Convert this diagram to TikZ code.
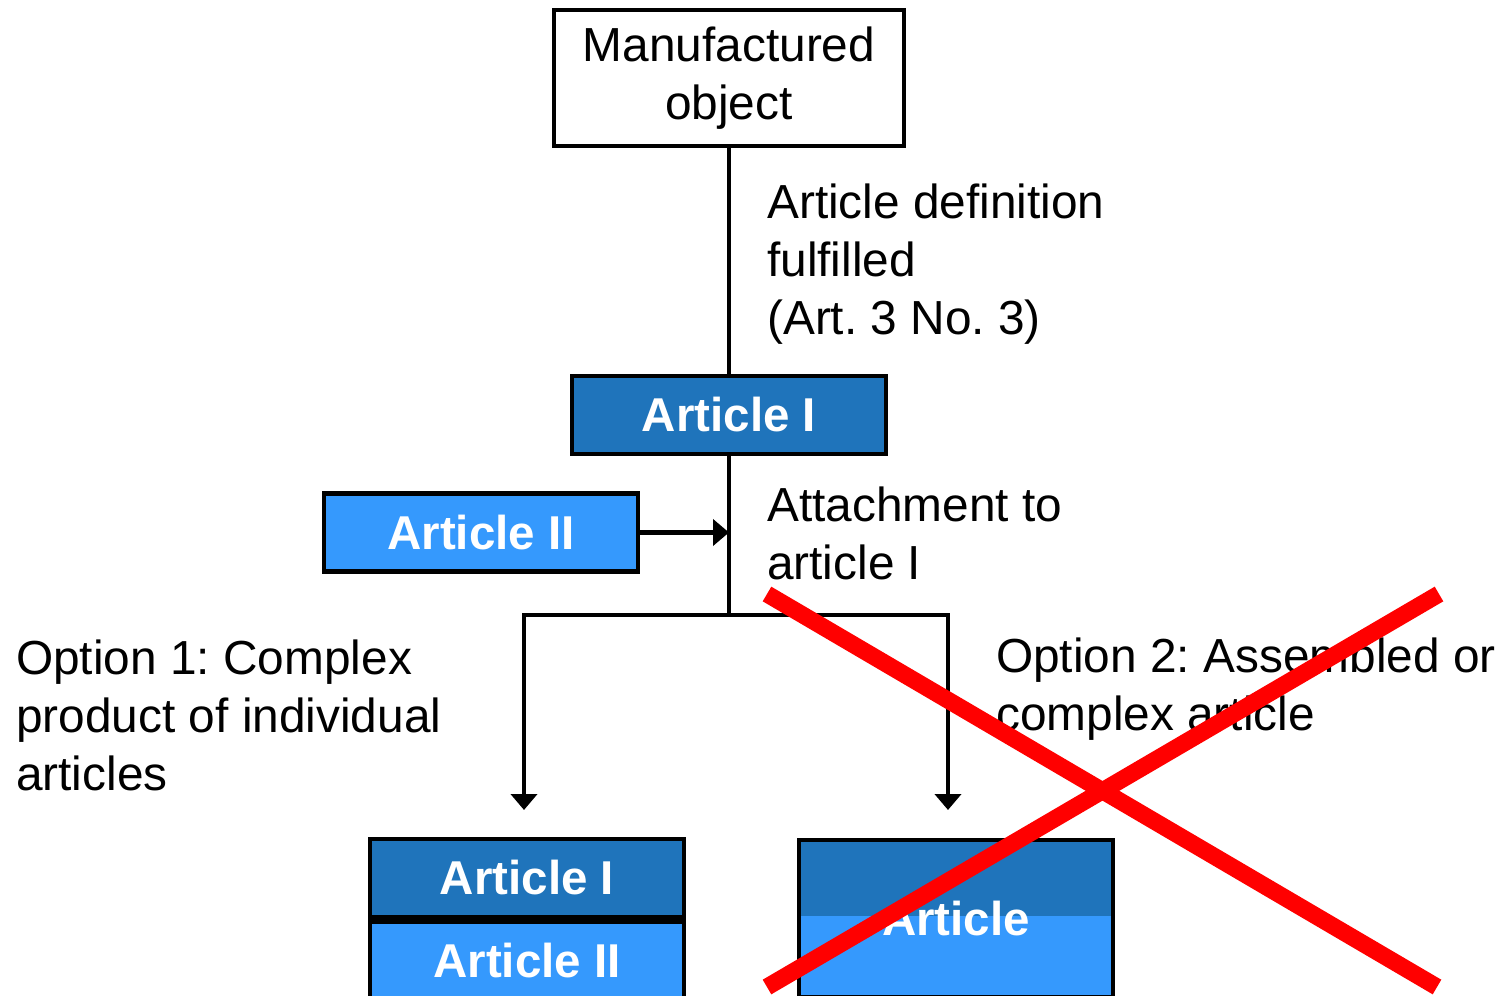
\documentclass[tikz,border=0pt]{standalone}
\usepackage{fontspec}
\setmainfont{Liberation Sans}
\frenchspacing
\usetikzlibrary{arrows.meta}
\definecolor{darkblue}{HTML}{1F74BB}
\definecolor{lightblue}{HTML}{3599FD}
\definecolor{crossred}{HTML}{FF0000}
\tikzset{
  lbl/.style={anchor=base west, align=left, inner sep=0pt, font=\fontsize{47.8}{58}\selectfont},
  artbox/.style={draw=black, line width=4.5pt, minimum width=314pt, minimum height=78pt, inner sep=0pt,
    text=white, font=\bfseries\fontsize{47.5}{56}\selectfont},
  dark/.style={artbox, fill=darkblue},
  light/.style={artbox, fill=lightblue},
  conn/.style={line width=4.8pt, line join=miter},
  arr/.style={conn, -{Triangle[length=16pt,width=26pt]}},
  cross/.style={crossred, line width=17pt}
}
\begin{document}
\begin{tikzpicture}[x=1pt,y=-1pt]
\useasboundingbox (0,0) rectangle (1505,996);
% top box
\node[draw=black, line width=4.5pt, minimum width=350pt, minimum height=136pt, inner sep=0pt,
      align=center, font=\fontsize{47.8}{58}\selectfont] (mo) at (729,78) {Manufactured\\object};
\node[dark] (a1) at (729,415) {Article I};
\node[light] (a2) at (481,532.5) {Article II};
\coordinate (j) at (729,615);
\coordinate (tl) at (524,810);
\coordinate (tr) at (948,810);
% bottom left stack
\node[dark] (b1) at (527,878) {Article I};
\node[light, anchor=north] (b2) at (b1.south) {Article II};
% bottom right combined article
\fill[darkblue] (799,839) rectangle (1113,916);
\fill[lightblue] (799,916) rectangle (1113,996);
\node[draw=black, line width=4.5pt, minimum width=314pt, minimum height=157pt, inner sep=0pt,
      text=white, font=\bfseries\fontsize{47.5}{56}\selectfont] (art) at (956,918.5) {Article};
% connectors
\draw[conn] (mo.south) -- (a1.north);
\draw[conn] (a1.south) -- (j);
\draw[arr] (a2.east) -- (a2.east -| j);
\draw[arr] (j) -- (j -| tl) -- (tl);
\draw[arr] (j) -- (j -| tr) -- (tr);
% labels (anchor is the baseline of the last line)
\node[lbl] (l1) at (767,334) {Article definition\\fulfilled\\(Art. 3 No. 3)};
\node[lbl] (l2) at (767,579) {Attachment to\\article I};
\node[lbl] (l3) at (16,790) {Option 1: Complex\\product of individual\\articles};
\node[lbl] (l4) at (996,730) {Option 2: Assembled or\\complex article};
% red cross
\draw[cross] (767,594) -- (1437,987);
\draw[cross] (1439,594) -- (767,987);
\end{tikzpicture}
\end{document}
